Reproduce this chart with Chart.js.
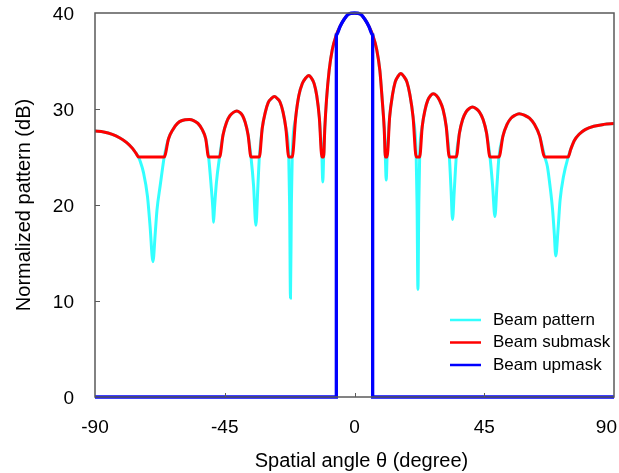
<!DOCTYPE html>
<html>
<head>
<meta charset="utf-8">
<script src="https://cdn.jsdelivr.net/npm/chart.js@4.4.1/dist/chart.umd.min.js"></script>
<style>
  html, body { margin: 0; padding: 0; background: #fff; }
  #wrap { width: 619px; height: 473px; }
</style>
</head>
<body>
<div id="wrap"><canvas id="beamChart" width="619" height="473"></canvas></div>
<script>
// spatial angle (degree), shared by pattern and submask
var angles = [
  -90, -87, -84, -81.5, -79, -77, -75.8, -74.9,
  -74.5, -73.2, -71.8, -70.9, -69.9, -69.1, -68.5, -67.4, -66.5, -66.0,
  -64.5, -62.9, -61.4, -59.8, -57.3, -55.8, -54.3, -52.9, -51.6, -50.6,
  -49.8, -49.1, -48.9, -48.6, -47.9, -46.8,
  -45.6, -44.4, -43.2, -42.0, -40.8, -39.8, -38.8, -37.9, -36.9, -35.9,
  -35.0, -34.2, -33.5, -33.0,
  -32.0, -30.9, -29.9, -28.8, -27.8, -26.8, -25.8, -24.8, -23.8, -22.8,
  -22.5, -22.2, -21.9, -21.6,
  -20.4, -19.3, -18.1, -17.0, -15.8, -14.9, -14.0, -13.1, -12.2, -11.3,
  -11.0, -10.7,
  -10.3, -9.7, -8.8, -7.7, -6.3, -5.0, -3.7, -2.0, 0, 2.0, 3.7, 5.0, 6.3, 7.7, 8.8, 9.6, 10.3, 10.7,
  11.0, 11.3,
  12.2, 13.2, 14.1, 15.1, 16.0, 17.1, 18.2, 19.2, 20.3, 21.4,
  21.7, 22.0, 22.3, 22.6,
  23.5, 24.5, 25.4, 26.4, 27.3, 28.4, 29.5, 30.7, 31.8, 32.9,
  33.5, 34.0, 34.6, 35.3,
  36.4, 37.5, 38.7, 39.8, 40.9, 42.1, 43.3, 44.6, 45.8, 47.0,
  47.9, 48.7, 49.4, 50.1,
  51.5, 52.9, 54.3, 55.7, 57.1, 58.9, 60.7, 62.4, 64.2, 66.0,
  66.9, 67.8, 68.7, 69.3, 69.8, 70.6, 71.3, 72.5, 74.1,
  75.0, 76.2, 78.0, 80.0, 83.0, 86.5, 90
];

// Beam pattern (dB)
var patternDb = [
  27.7, 27.6, 27.35, 27.0, 26.5, 25.9, 25.4, 25.0,
  24.7, 23.4, 20.9, 17.8, 14.1, 17.1, 19.5, 22.0, 24.0, 25.0,
  26.9, 27.9, 28.5, 28.8, 28.9, 28.8, 28.5, 27.9, 26.9, 25.0,
  22.3, 19.5, 18.2, 19.5, 22.3, 25.0,
  27.3, 28.6, 29.3, 29.65, 29.8, 29.65, 29.3, 28.6, 27.3, 25.0,
  22.0, 17.9, 22.0, 25.0,
  28.0, 29.7, 30.7, 31.1, 31.3, 31.1, 30.7, 29.7, 28.0, 25.0,
  20.0, 10.3, 20.0, 25.0,
  29.1, 31.4, 32.65, 33.2, 33.5, 33.2, 32.65, 31.4, 29.1, 25.0,
  22.4, 25.0,
  28.0, 31.0, 34.0, 36.2, 37.7, 38.6, 39.3, 39.9, 40.0, 39.9, 39.3, 38.6, 37.7, 36.2, 34.0, 31.0, 28.0, 25.0,
  22.6, 25.0,
  29.2, 31.5, 32.8, 33.4, 33.7, 33.4, 32.8, 31.5, 29.2, 25.0,
  20.0, 11.2, 20.0, 25.0,
  28.2, 29.95, 30.9, 31.4, 31.6, 31.4, 30.9, 29.95, 28.2, 25.0,
  21.5, 18.5, 21.5, 25.0,
  27.5, 28.9, 29.7, 30.05, 30.2, 30.05, 29.7, 28.9, 27.5, 25.0,
  22.0, 18.8, 22.0, 25.0,
  27.2, 28.4, 29.05, 29.35, 29.5, 29.35, 29.05, 28.4, 27.2, 25.0,
  24.0, 22.0, 19.5, 17.0, 14.7, 17.5, 20.5, 23.0, 25.0,
  25.8, 26.7, 27.4, 27.85, 28.2, 28.4, 28.5
];

// Beam submask (dB): the pattern held at the 25 dB floor
var submaskDb = [
  27.7, 27.6, 27.35, 27.0, 26.5, 25.9, 25.4, 25.0,
  25, 25, 25, 25, 25, 25, 25, 25, 25, 25,
  26.9, 27.9, 28.5, 28.8, 28.9, 28.8, 28.5, 27.9, 26.9, 25.0,
  25, 25, 25, 25, 25, 25,
  27.3, 28.6, 29.3, 29.65, 29.8, 29.65, 29.3, 28.6, 27.3, 25.0,
  25, 25, 25, 25,
  28.0, 29.7, 30.7, 31.1, 31.3, 31.1, 30.7, 29.7, 28.0, 25.0,
  25, 25, 25, 25,
  29.1, 31.4, 32.65, 33.2, 33.5, 33.2, 32.65, 31.4, 29.1, 25.0,
  25, 25,
  28.0, 31.0, 34.0, 36.2, 37.7, 38.6, 39.3, 39.9, 40.0, 39.9, 39.3, 38.6, 37.7, 36.2, 34.0, 31.0, 28.0, 25.0,
  25, 25,
  29.2, 31.5, 32.8, 33.4, 33.7, 33.4, 32.8, 31.5, 29.2, 25.0,
  25, 25, 25, 25,
  28.2, 29.95, 30.9, 31.4, 31.6, 31.4, 30.9, 29.95, 28.2, 25.0,
  25, 25, 25, 25,
  27.5, 28.9, 29.7, 30.05, 30.2, 30.05, 29.7, 28.9, 27.5, 25.0,
  25, 25, 25, 25,
  27.2, 28.4, 29.05, 29.35, 29.5, 29.35, 29.05, 28.4, 27.2, 25.0,
  25, 25, 25, 25, 25, 25, 25, 25, 25,
  25.8, 26.7, 27.4, 27.85, 28.2, 28.4, 28.5
];

// Beam upmask: zero outside the main beam, follows the main lobe inside
var upmaskAngles = [-90, -6.3, -6.3, -5.0, -3.7, -2.0, 0, 2.0, 3.7, 5.0, 6.3, 6.3, 90];
var upmaskDb     = [0, 0, 37.7, 38.6, 39.3, 39.9, 40.0, 39.9, 39.3, 38.6, 37.7, 0, 0];

var seriesNames = ["Beam pattern", "Beam submask", "Beam upmask"];
var xTickValues = [-90, -45, 0, 45, 90];
var yTickValues = [0, 10, 20, 30, 40];

function toPoints(xs, ys) {
    return xs.map(function (x, i) { return { x: x, y: ys[i] }; });
}

var frameColor = "#5a5a5a";
var textFont = "'Liberation Sans', Arial, sans-serif";

// frame, inward ticks, tick labels, x title and the legend box
var framePlugin = {
    id: "frame",
    afterDraw: function (chart) {
        var ctx = chart.ctx;
        var a = chart.chartArea;
        var xs = chart.scales.x, ys = chart.scales.y;
        ctx.save();
        ctx.strokeStyle = frameColor;
        ctx.lineWidth = 1.5;
        ctx.strokeRect(a.left, a.top, a.right - a.left, a.bottom - a.top);

        ctx.lineWidth = 1;
        ctx.beginPath();
        yTickValues.forEach(function (v) {
            if (v === ys.min || v === ys.max) return;
            var py = Math.round(ys.getPixelForValue(v)) + 0.5;
            ctx.moveTo(a.left, py);
            ctx.lineTo(a.left + 5, py);
        });
        xTickValues.forEach(function (v) {
            if (v === xs.min || v === xs.max) return;
            var px = Math.round(xs.getPixelForValue(v)) + 0.5;
            ctx.moveTo(px, a.bottom);
            ctx.lineTo(px, a.bottom - 4);
        });
        ctx.stroke();

        ctx.fillStyle = "#000";
        ctx.font = "19px " + textFont;
        ctx.textBaseline = "middle";

        // y tick labels
        ctx.textAlign = "right";
        yTickValues.forEach(function (v) {
            ctx.fillText(String(v), a.left - 21, ys.getPixelForValue(v) + 1.5);
        });

        // x tick labels, kept inside the canvas at both ends
        ctx.textAlign = "center";
        xTickValues.forEach(function (v) {
            var label = String(v);
            var w = ctx.measureText(label).width;
            var px = xs.getPixelForValue(v);
            px = Math.min(px, chart.width - w / 2 - 2);
            px = Math.max(px, w / 2 + 2);
            ctx.fillText(label, px, a.bottom + 31);
        });

        // x axis title
        ctx.font = "20px " + textFont;
        ctx.fillText("Spatial angle θ (degree)", (a.left + a.right) / 2 + 7, 461);

        // legend in the lower right of the plot
        ctx.font = "17px " + textFont;
        ctx.textAlign = "left";
        chart.data.datasets.forEach(function (ds, i) {
            var ly = a.bottom - 77 + i * 22.5;
            ctx.strokeStyle = ds.borderColor;
            ctx.lineWidth = 2.5;
            ctx.beginPath();
            ctx.moveTo(a.right - 164, ly);
            ctx.lineTo(a.right - 133, ly);
            ctx.stroke();
            ctx.fillStyle = "#000";
            ctx.fillText(ds.label, a.right - 121, ly);
        });
        ctx.restore();
    }
};

var ctx = document.getElementById("beamChart");
var beamChart = new Chart(ctx, {
    type: "line",
    data: {
        datasets: [
            {
                label: seriesNames[0],
                data: toPoints(angles, patternDb),
                borderColor: "#33ffff",
                borderWidth: 3,
                order: 3
            },
            {
                label: seriesNames[1],
                data: toPoints(angles, submaskDb),
                borderColor: "#ff0000",
                borderWidth: 3,
                order: 2
            },
            {
                label: seriesNames[2],
                data: toPoints(upmaskAngles, upmaskDb),
                borderColor: "#0000ff",
                borderWidth: 3.3,
                order: 1,
                clip: 4
            }
        ]
    },
    options: {
        responsive: false,
        animation: false,
        events: [],
        layout: {
            autoPadding: false,
            padding: { top: 13, right: 5, left: 0, bottom: 0 }
        },
        elements: {
            point: { radius: 0 },
            line: { fill: false, cubicInterpolationMode: "monotone" }
        },
        plugins: {
            legend: { display: false },
            tooltip: { enabled: false }
        },
        scales: {
            x: {
                type: "linear",
                min: -90,
                max: 90,
                afterBuildTicks: function (s) { s.ticks = xTickValues.map(function (v) { return { value: v }; }); },
                afterFit: function (s) { s.height = 76; },
                grid: { display: false },
                border: { display: false },
                ticks: { display: false }
            },
            y: {
                min: 0,
                max: 40,
                afterBuildTicks: function (s) { s.ticks = yTickValues.map(function (v) { return { value: v }; }); },
                afterFit: function (s) { s.width = 95; },
                grid: { display: false, drawTicks: false },
                border: { display: false },
                ticks: { display: false },
                title: {
                    display: true,
                    text: "Normalized pattern (dB)",
                    color: "#000",
                    font: { family: textFont, size: 20 },
                    padding: { top: 12, bottom: 0 }
                }
            }
        }
    },
    plugins: [framePlugin]
});
</script>
</body>
</html>
